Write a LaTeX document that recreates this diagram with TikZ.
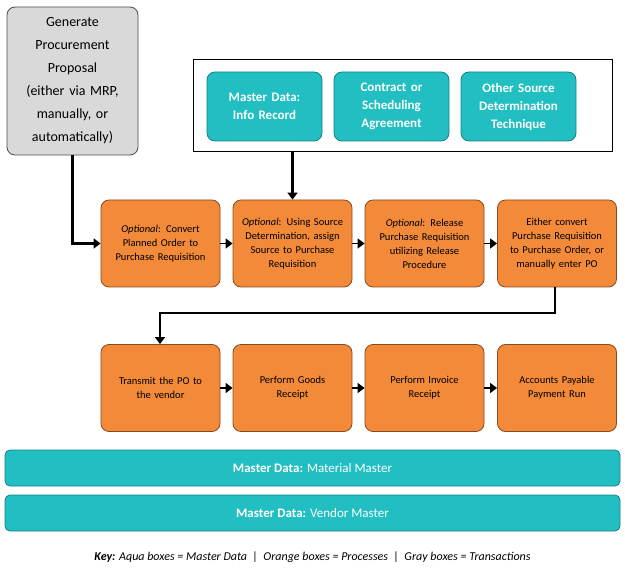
\documentclass[tikz,border=0pt]{standalone}
\usepackage{fontspec}
\setmainfont{Carlito}
\usetikzlibrary{arrows.meta}
\definecolor{org}{HTML}{F28A3A}
\definecolor{orgb}{HTML}{8A4A1E}
\definecolor{aqua}{HTML}{22BFC2}
\definecolor{aquab}{HTML}{157F82}
\definecolor{grayf}{HTML}{D9D9D9}
\begin{document}
\begin{tikzpicture}[x=1pt,y=-1pt,
 box/.style={rounded corners=8pt,line width=0.8pt,align=center,inner sep=2pt},
 proc/.style={box,fill=org,draw=orgb,minimum width=119pt,minimum height=87pt,text width=112pt,font=\fontsize{10.5}{14}\selectfont},
 md/.style={box,fill=aqua,draw=aquab,minimum width=115pt,minimum height=69pt,text width=108pt,text=white,font=\bfseries\fontsize{13}{18}\selectfont},
 bar/.style={rounded corners=5pt,line width=0.8pt,fill=aqua,draw=aquab,minimum width=615pt,minimum height=36pt,text=white,font=\fontsize{13}{16}\selectfont},
 con/.style={line width=2.5pt,-{Triangle[length=7pt,width=10pt]}}]
\useasboundingbox (0,0) rectangle (625,575);
\node[box,fill=grayf,draw=black!70,minimum width=131pt,minimum height=148pt,text width=125pt,font=\fontsize{14}{23}\selectfont] (g) at (72.5,81) {Generate\\Procurement\\Proposal\\(either via MRP,\\manually, or\\automatically)};
\node[draw=black,line width=1pt,minimum width=419pt,minimum height=92pt,inner sep=0pt] (fr) at (402.5,106) {};
\node[md] (m1) at (264.5,106.5) {Master Data:\\Info Record};
\node[md] (m2) at (391.5,106.5) {Contract or\\Scheduling\\Agreement};
\node[md] (m3) at (518.5,106.5) {Other Source\\Determination\\Technique};
\node[proc] (p1) at (160.5,243.5) {\textit{Optional}: Convert\\Planned Order to\\Purchase Requisition};
\node[proc] (p2) at (292.5,243.5) {\textit{Optional}: Using Source\\Determination, assign\\Source to Purchase\\Requisition};
\node[proc] (p3) at (424.5,243.5) {\textit{Optional}: Release\\Purchase Requisition\\utilizing Release\\Procedure};
\node[proc] (p4) at (557,243.5) {Either convert\\Purchase Requisition\\to Purchase Order, or\\manually enter PO};
\node[proc] (q1) at (160.5,388) {Transmit the PO to\\the vendor};
\node[proc] (q2) at (292.5,388) {Perform Goods\\Receipt};
\node[proc] (q3) at (424.5,388) {Perform Invoice\\Receipt};
\node[proc] (q4) at (557,388) {Accounts Payable\\Payment Run};
\node[bar] (b1) at (312.5,468) {\textbf{Master Data:} Material Master};
\node[bar] (b2) at (312.5,513) {\textbf{Master Data:} Vendor Master};
\node[font=\fontsize{12}{14}\selectfont] (key) at (312.5,557) {\textbf{\textit{Key:}} \textit{Aqua boxes = Master Data \ | \ Orange boxes = Processes \ | \ Gray boxes = Transactions}};
\draw[con] (g.south) |- (p1.west);
\draw[con] (fr.south -| p2.north) -- (p2.north);
\draw[con,line width=1.5pt] (p1) -- (p2);
\draw[con,line width=1.5pt] (p2) -- (p3);
\draw[con,line width=1.5pt] (p3) -- (p4);
\draw[con,line width=1.5pt] (q1) -- (q2);
\draw[con,line width=1.5pt] (q2) -- (q3);
\draw[con,line width=1.5pt] (q3) -- (q4);
\draw[con] (p4.south -| 555,0) -- (555,313) -- (160,313) -- (q1.north -| 160,0);
\end{tikzpicture}
\end{document}
